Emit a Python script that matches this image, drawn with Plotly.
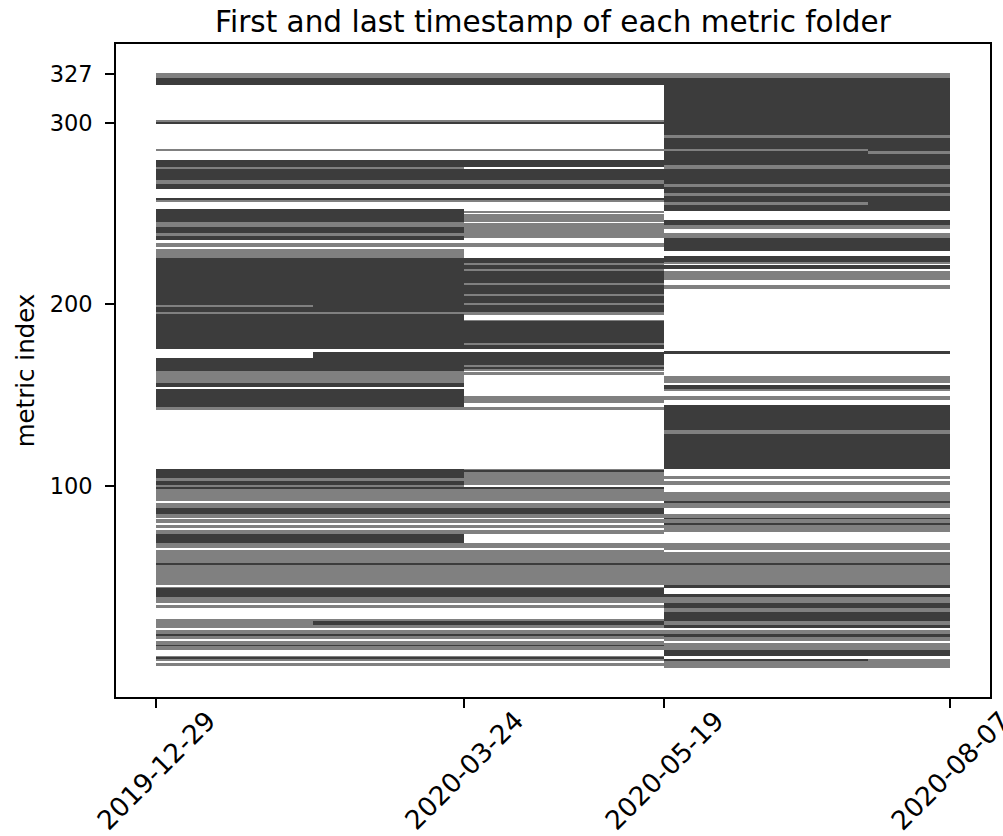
import plotly.graph_objects as go
import pandas as pd

# key timestamps (first / last timestamps seen in the chart)
dates = {
    "A": "2019-12-29",
    "B": "2020-02-11",
    "C": "2020-03-24",
    "D": "2020-05-19",
    "E": "2020-07-15",
    "F": "2020-08-07",
}
tick_dates = ["2019-12-29", "2020-03-24", "2020-05-19", "2020-08-07"]
y_ticks = [100, 200, 300, 327]

# bands of metric indices: (low index, high index, shade) ; d = dense (dark), g = sparse (gray)
col_first = [  # 2019-12-29 -> 2020-03-24
    (325, 327, "g"), (321, 324, "d"), (301, 301, "g"), (300, 300, "d"), (285, 285, "g"),
    (276, 279, "d"), (275, 275, "g"), (269, 274, "d"), (267, 268, "g"), (264, 266, "d"),
    (258, 258, "d"), (257, 257, "g"), (246, 252, "d"), (243, 245, "g"), (240, 242, "d"),
    (238, 239, "g"), (236, 237, "d"), (232, 233, "g"), (226, 230, "g"), (200, 225, "d"),
    (199, 199, "d"), (196, 198, "d"), (195, 195, "g"), (176, 194, "d"), (164, 170, "d"),
    (157, 163, "g"), (155, 156, "d"), (144, 153, "d"), (142, 143, "g"),
    (105, 109, "d"), (103, 104, "g"), (101, 102, "d"), (100, 100, "g"), (99, 99, "d"),
    (92, 98, "g"), (88, 90, "g"), (85, 87, "d"), (83, 84, "g"), (80, 81, "g"), (77, 78, "g"),
    (74, 75, "g"), (69, 73, "d"), (66, 68, "g"), (58, 64, "g"), (57, 57, "d"), (46, 56, "g"),
    (44, 44, "g"), (39, 43, "d"), (36, 38, "g"), (33, 34, "g"), (26, 26, "g"), (22, 23, "g"),
    (19, 20, "g"), (18, 18, "d"), (16, 17, "g"), (13, 14, "g"), (12, 12, "d"), (10, 11, "g"),
    (6, 6, "g"), (5, 5, "d"), (4, 4, "g"), (1, 2, "g"),
]
col_second = [  # 2020-03-24 -> 2020-05-19
    (325, 327, "g"), (321, 324, "d"), (301, 301, "g"), (300, 300, "d"), (285, 285, "g"),
    (276, 279, "d"), (269, 274, "d"), (267, 268, "g"), (264, 266, "d"), (258, 258, "d"),
    (257, 257, "g"), (251, 251, "g"), (246, 249, "g"), (237, 244, "g"), (232, 233, "g"),
    (223, 225, "d"), (222, 222, "g"), (220, 221, "d"), (219, 219, "g"), (212, 218, "d"),
    (211, 211, "g"), (206, 210, "d"), (205, 205, "g"), (201, 204, "d"), (200, 200, "g"),
    (196, 199, "d"), (195, 195, "g"), (191, 191, "g"), (179, 190, "d"), (178, 178, "g"),
    (176, 177, "d"), (171, 173, "d"), (167, 170, "d"), (166, 166, "g"), (165, 165, "d"),
    (164, 164, "g"), (162, 162, "g"), (146, 149, "g"), (142, 143, "g"),
    (109, 109, "g"), (108, 108, "d"), (101, 107, "g"), (99, 99, "d"), (92, 98, "g"),
    (88, 90, "g"), (85, 87, "d"), (83, 84, "g"), (80, 81, "g"), (77, 78, "g"), (74, 75, "g"),
    (66, 68, "g"), (58, 64, "g"), (57, 57, "d"), (46, 56, "g"), (44, 44, "g"), (39, 43, "d"),
    (36, 38, "g"), (33, 34, "g"), (26, 26, "g"), (24, 25, "d"), (22, 23, "g"), (19, 20, "g"),
    (18, 18, "d"), (16, 17, "g"), (13, 14, "g"), (12, 12, "d"), (10, 11, "g"), (6, 6, "g"),
    (5, 5, "d"), (4, 4, "g"), (1, 2, "g"),
]
col_third = [  # 2020-05-19 -> 2020-08-07
    (325, 327, "g"), (321, 324, "d"), (294, 320, "d"), (292, 293, "g"), (286, 291, "d"),
    (277, 282, "d"), (275, 276, "g"), (267, 274, "d"), (265, 266, "g"), (262, 264, "d"),
    (260, 261, "g"), (257, 259, "d"), (252, 254, "d"), (244, 246, "d"), (242, 243, "g"),
    (237, 239, "g"), (230, 236, "d"), (224, 226, "d"), (223, 223, "g"), (220, 221, "d"),
    (214, 218, "g"), (209, 210, "g"), (173, 174, "d"), (157, 160, "g"), (154, 155, "d"),
    (153, 153, "g"), (148, 149, "g"), (131, 144, "d"), (129, 130, "g"), (110, 128, "d"),
    (104, 105, "g"), (101, 102, "g"), (92, 96, "g"), (91, 91, "d"), (88, 90, "g"),
    (83, 84, "g"), (82, 82, "d"), (80, 81, "g"), (79, 79, "d"), (75, 78, "g"), (65, 68, "g"),
    (58, 63, "g"), (57, 57, "d"), (46, 56, "g"), (44, 45, "d"), (39, 40, "d"), (36, 38, "g"),
    (33, 35, "d"), (31, 32, "g"), (26, 30, "d"), (24, 25, "g"), (22, 23, "d"), (19, 20, "g"),
    (17, 18, "d"), (15, 16, "g"), (13, 13, "g"), (10, 12, "g"), (7, 9, "d"), (0, 3, "g"),
]
# bands whose first/last timestamps fall inside a column: (low, high, start, end, shade)
partial = [
    (199, 199, "A", "B", "g"), (171, 173, "B", "C", "d"),
    (24, 25, "A", "B", "g"), (24, 25, "B", "C", "d"),
    (285, 285, "D", "E", "g"), (285, 285, "E", "F", "d"),
    (283, 284, "D", "E", "d"), (283, 284, "E", "F", "g"),
    (255, 256, "D", "E", "g"), (255, 256, "E", "F", "d"),
    (4, 4, "D", "E", "d"), (4, 4, "E", "F", "g"),
]

shade_color = {"d": "#3c3c3c", "g": "#808080"}

segments = []
for band_list, s, e in [(col_first, "A", "C"), (col_second, "C", "D"), (col_third, "D", "F")]:
    for lo, hi, sh in band_list:
        segments.append((lo, hi, s, e, sh))
segments.extend(partial)

yc, thick, base, dur, cols = [], [], [], [], []
for lo, hi, s, e, sh in segments:
    t0 = pd.Timestamp(dates[s])
    t1 = pd.Timestamp(dates[e])
    yc.append((lo + hi) / 2)
    thick.append(hi - lo + 1)
    base.append(t0.strftime("%Y-%m-%d"))
    dur.append((t1 - t0).total_seconds() * 1000)
    cols.append(shade_color[sh])

fig = go.Figure(go.Bar(
    orientation="h", y=yc, x=dur, base=base, width=thick,
    marker=dict(color=cols, line=dict(width=0)),
    hoverinfo="skip", showlegend=False,
))

t_min = pd.Timestamp(dates["A"])
t_max = pd.Timestamp(dates["F"])
pad = (t_max - t_min) * 0.05
x_range = [(t_min - pad).isoformat(), (t_max + pad).isoformat()]
y_pad = 327 * 0.05

FONT = "DejaVu Sans"
fig.update_layout(
    width=1003, height=836,
    margin=dict(l=116, r=13, t=44, b=139),
    paper_bgcolor="white", plot_bgcolor="white",
    font=dict(family=FONT, color="black", size=24),
    title=dict(text="First and last timestamp of each metric folder",
               x=0.5, xref="paper", xanchor="center",
               y=1 - 22 / 836, yref="container", yanchor="middle",
               font=dict(family=FONT, size=29.5, color="black")),
    xaxis=dict(type="date", range=x_range, tickvals=tick_dates, showticklabels=False,
               ticks="outside", ticklen=9, tickwidth=1.6, tickcolor="black",
               showline=True, linecolor="black", linewidth=1.6, mirror=True,
               showgrid=False, zeroline=False),
    yaxis=dict(range=[-y_pad, 327 + y_pad], tickvals=y_ticks,
               ticktext=[str(v) for v in y_ticks],
               ticks="outside", ticklen=9, tickwidth=1.6, tickcolor="black",
               showline=True, linecolor="black", linewidth=1.6, mirror=True,
               showgrid=False, zeroline=False, ticklabelstandoff=8,
               tickfont=dict(family=FONT, size=22.5, color="black"),
               title=dict(text="metric index", standoff=8,
                          font=dict(family=FONT, size=24.5, color="black"))),
    bargap=0,
)

for d in tick_dates:
    fig.add_annotation(text=d, x=d, xref="x", y=0, yref="paper", yshift=-5,
                       xanchor="center", yanchor="top", textangle=-45, showarrow=False,
                       font=dict(family=FONT, size=26.5, color="black"))

fig.write_html("out.html", config={"displayModeBar": False},
               post_script="document.body.style.margin='0px';")
